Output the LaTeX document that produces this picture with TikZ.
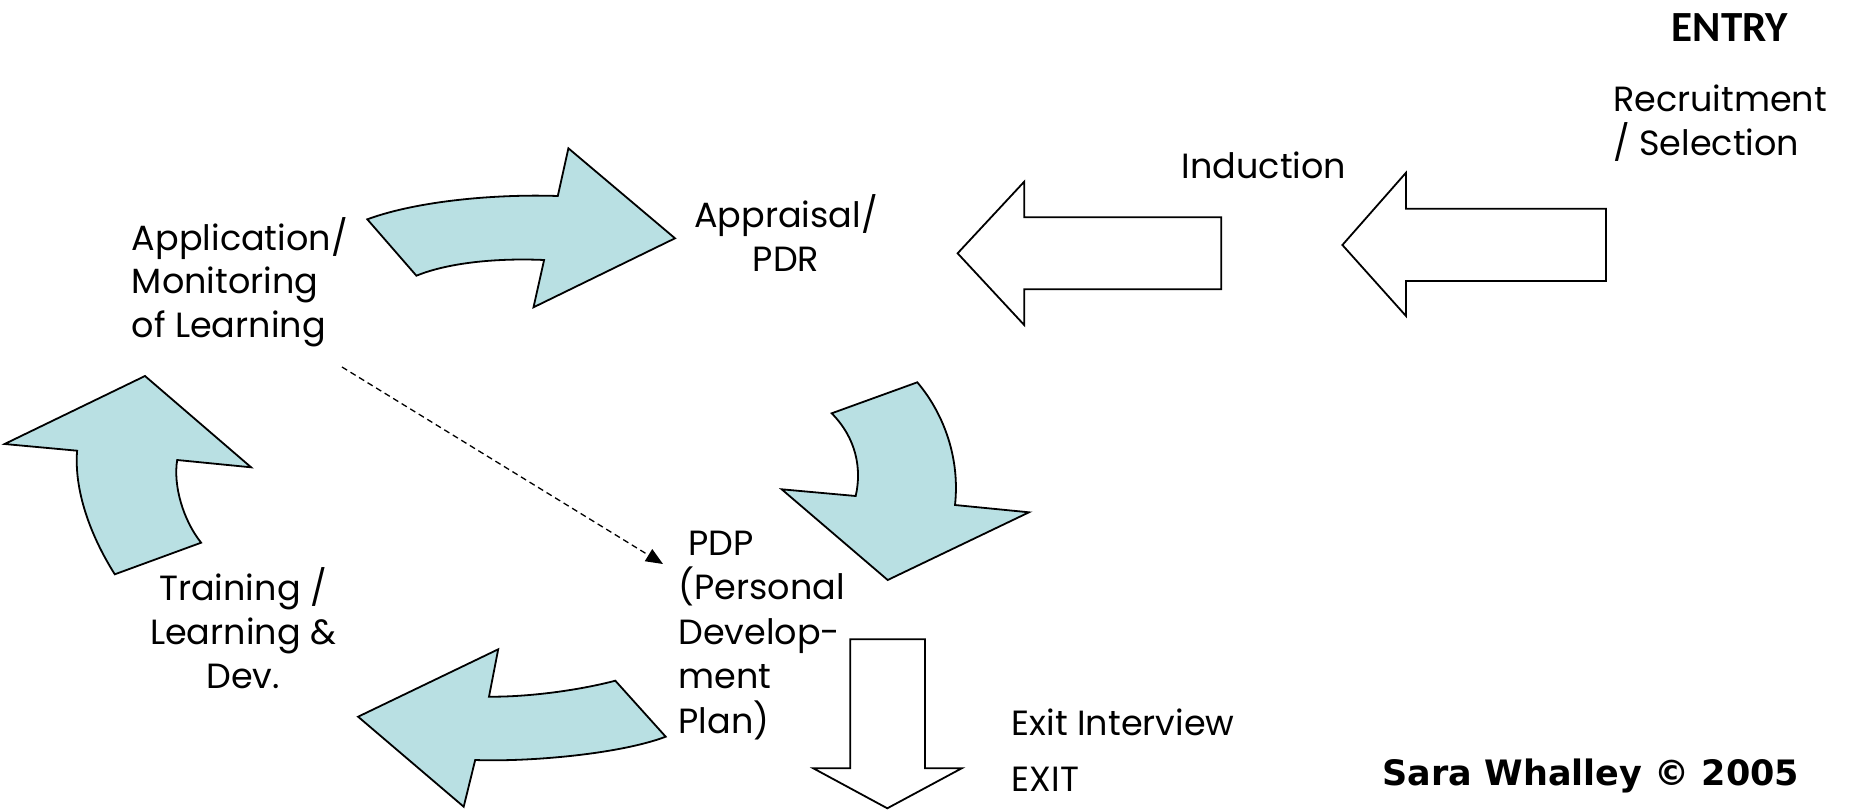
\documentclass[tikz,border=0pt]{standalone}
\usepackage{fontspec}
\setmainfont{Poppins}
\newfontfamily\entryfont{Carlito}
\newfontfamily\signfont{DejaVu Sans}
\usetikzlibrary{arrows.meta}
\definecolor{arrowblue}{RGB}{185,224,227}
\tikzset{
  curvedarrow/.style={draw=black, fill=arrowblue, line width=1.8pt, line join=miter},
  blockarrow/.style={draw=black, fill=white, line width=1.8pt, line join=miter},
  txt/.style={inner sep=0pt, font=\fontsize{35}{43.8}\selectfont},
  dashlink/.style={dash pattern=on 6pt off 4pt, line width=1.3pt, -{Triangle[length=17pt,width=14pt]}}
}
\begin{document}
\begin{tikzpicture}[x=1pt,y=-1pt]
\useasboundingbox (0,0) rectangle (1850,809);

% curved blue arrows
\path[curvedarrow] (367.3,219.3) .. controls (420,200) and (500,194) .. (557.8,196)
  -- (568.4,148.3) -- (675,238.3) -- (533.5,307.3) -- (544.1,260)
  .. controls (500,258) and (450,262) .. (416.4,275.7) -- cycle;
\path[curvedarrow] (917.3,382.3) .. controls (945,415) and (960,460) .. (955,505)
  -- (1029,512.3) -- (887.7,580) -- (781.7,489.3) -- (855.7,496)
  .. controls (862,468) and (856,438) .. (831.7,413.3) -- cycle;
\path[curvedarrow] (665.7,736.7) .. controls (620,754) and (530,762) .. (475.2,760)
  -- (463.7,806.7) -- (358.1,716.7) -- (498.2,649.3) -- (489,696.7)
  .. controls (530,697) and (580,690) .. (615.3,680.7) -- cycle;
\path[curvedarrow] (114.8,574.3) .. controls (90,535) and (74,490) .. (77.1,450.7)
  -- (4.6,444) -- (145,376) -- (251.1,467.3) -- (177.2,460)
  .. controls (173,485) and (183,520) .. (201.1,542.7) -- cycle;

% white block arrows
\path[blockarrow] (1221.2,217.3) -- (1024.2,217.3) -- (1024.2,181.7) -- (957.6,253.3)
  -- (1024.2,325) -- (1024.2,289.3) -- (1221.2,289.3) -- cycle;
\path[blockarrow] (1606,208.7) -- (1406,208.7) -- (1406,172.7) -- (1342.4,245)
  -- (1406,316) -- (1406,281) -- (1606,281) -- cycle;
\path[blockarrow] (850.3,639.3) -- (925,639.3) -- (925,768.3) -- (961.7,768.3)
  -- (887.3,808.3) -- (813.3,768.3) -- (850.3,768.3) -- cycle;

% texts (multi-line nodes: base anchor = baseline of last line)
\node[txt, anchor=base west] (entry) at (1671.7,41.7) {\entryfont\fontsize{43}{50}\selectfont\bfseries ENTRY};
\node[txt, anchor=base west, align=left] (recruit) at (1613,155) {Recruitment\\/ Selection};
\node[txt, anchor=base west] (induct) at (1181.7,178.3) {Induction};
\node[txt, anchor=base, align=center] (apprais) at (786,271.7) {Appraisal/\\PDR};
\node[txt, anchor=base west, align=left] (applic) at (131.7,337.7) {Application/\\Monitoring\\of Learning};
\node[txt, anchor=base, align=center] (train) at (243,688.3) {Training /\\Learning \&\\Dev.};
\node[txt, anchor=base west, align=left, font=\fontsize{35}{44.5}\selectfont] (pdp) at (678.3,733.3) {\hspace*{10pt}PDP\\(Personal\\Develop-\\ment\\Plan)};
\node[txt, anchor=base west] (exitint) at (1011.7,735) {Exit Interview};
\node[txt, anchor=base west] (exit) at (1011.7,791.7) {EXIT};
\node[txt, anchor=base west] (sign) at (1382.5,785) {\signfont\fontsize{35}{42}\selectfont\bfseries Sara Whalley \textcopyright{} 2005};

% dashed link
\coordinate (dstart) at (342,367);
\coordinate (dend) at (663,564);
\draw[dashlink] (dstart) -- (dend);
\end{tikzpicture}
\end{document}
